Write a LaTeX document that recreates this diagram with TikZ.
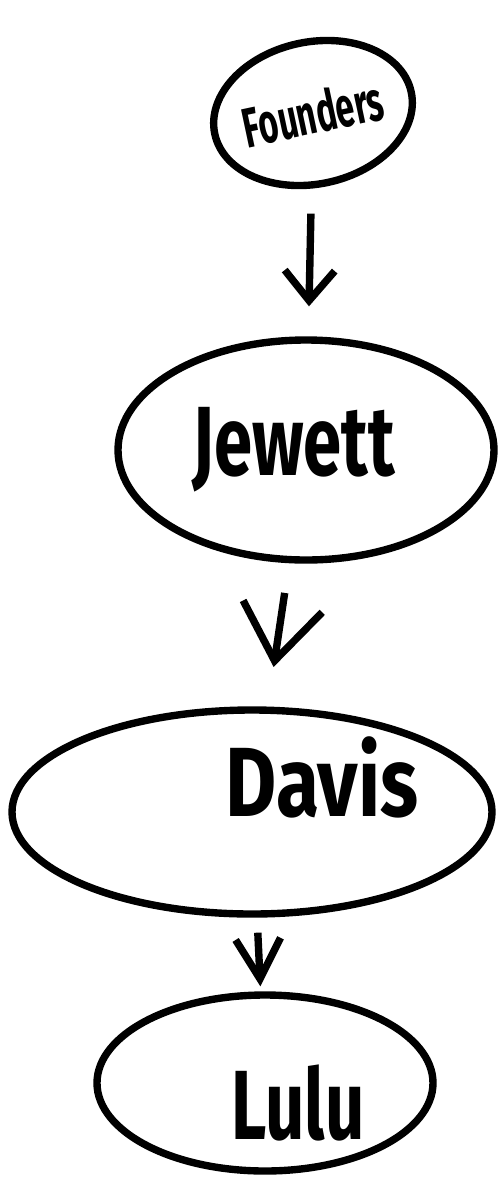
\documentclass[tikz,border=0pt]{standalone}
\usepackage{fontspec}
\setmainfont{Fira Sans}
\usetikzlibrary{arrows.meta,shapes.geometric}
\tikzset{
  person/.style={draw, ellipse, line width=2.1pt, inner sep=0pt,
    font=\fontsize{28}{30}\selectfont\bfseries},
  personname/.style={font=\fontsize{28}{30}\selectfont\bfseries},
  flowarrow/.style={line width=2.1pt}
}
\begin{document}
\begin{tikzpicture}
    \useasboundingbox (0,0) rectangle (4.98,-11.77);

    \node[person, minimum width=2.0cm, minimum height=1.42cm, rotate=12] (founders) at (3.13,-1.13)
        {\scalebox{0.6}[1]{\fontsize{16}{18}\selectfont Founders}};
    \node[person, minimum width=3.76cm, minimum height=2.2cm] (jewett) at (3.06,-4.5)
        {\raisebox{0.1cm}{\scalebox{0.7}[1]{Jewett}}\hspace*{0.25cm}};
    \node[person, minimum width=4.8cm, minimum height=2.04cm,
        label={[personname, xshift=0.7cm, yshift=0.35cm]center:\scalebox{0.8}[1]{Davis}}] (davis) at (2.52,-8.12) {};
    \node[person, minimum width=3.36cm, minimum height=1.76cm,
        label={[personname, xshift=0.33cm, yshift=-0.2cm]center:\scalebox{0.7}[1]{Lulu}}] (lulu) at (2.65,-10.83) {};

    \draw[flowarrow, -{Straight Barb[length=3mm,width=5mm]}, shorten <=0.25cm, shorten >=0.3cm] (founders) -- (jewett);
    \draw[flowarrow, -{Straight Barb[length=5.5mm,width=8mm]}, shorten <=0.3cm, shorten >=0.4cm] (jewett) -- (davis);
    \draw[flowarrow, -{Straight Barb[length=4mm,width=4.5mm]}, shorten <=0.15cm, shorten >=0.05cm] (davis) -- (lulu);
\end{tikzpicture}
\end{document}
